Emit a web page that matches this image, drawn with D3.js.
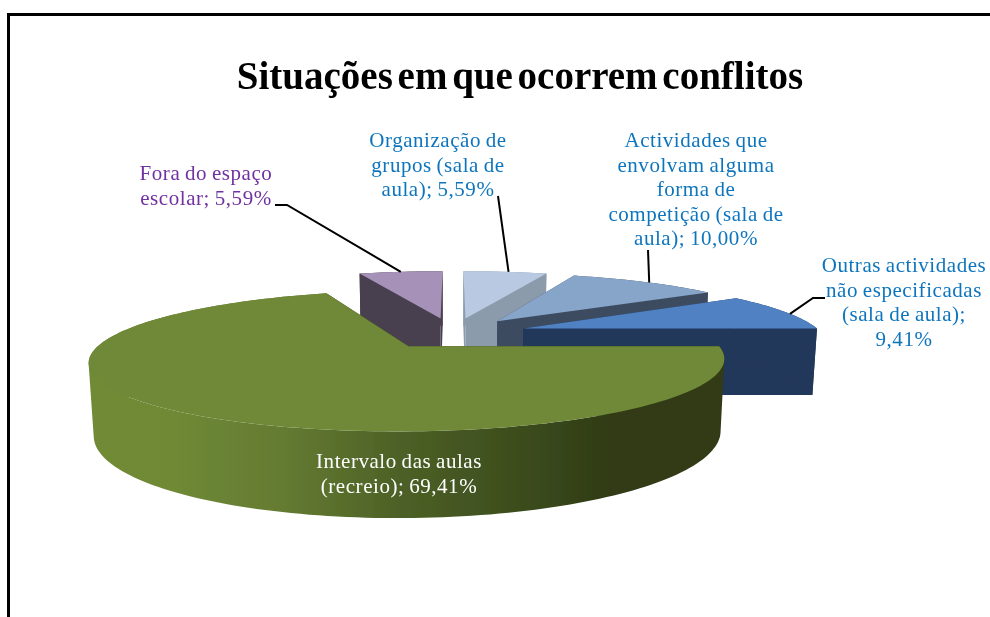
<!DOCTYPE html>
<html><head><meta charset="utf-8">
<script src="https://cdn.jsdelivr.net/npm/d3@7/dist/d3.min.js"></script>
<style>html,body{margin:0;padding:0;background:#fff}svg{display:block}text{font-family:"Liberation Serif",serif}</style>
</head><body><div id="c"></div>
<script>
const chartTitle = "Situações em que ocorrem conflitos";
const categories = ["Intervalo das aulas (recreio)","Fora do espaço escolar","Organização de grupos (sala de aula)","Actividades que envolvam alguma forma de competição (sala de aula)","Outras actividades não especificadas (sala de aula)"];
const values = [69.41,5.59,5.59,10.00,9.41];
const valueLabels = ["69,41%","5,59%","5,59%","10,00%","9,41%"];
const labelLines = [
  ["Intervalo das aulas","(recreio); 69,41%"],
  ["Fora do espaço","escolar; 5,59%"],
  ["Organização de","grupos (sala de","aula); 5,59%"],
  ["Actividades que","envolvam alguma","forma de","competição (sala de","aula); 10,00%"],
  ["Outras actividades","não especificadas","(sala de aula);","9,41%"]
];
const topColors = ["#6f8937","#a692b8","#b8c9e1","#87a4c9","#4f81c3"];
const sideColors = ["#303a16","#4a4050","#8c9bac","#3d4c60","#21375a"];
const labelColors = ["#ffffff","#7030a0","#0f75bd","#0f75bd","#0f75bd"];
const labelX = [399,206,438,696,904];
const labelFirstY = [468,180,147,147,272];
const labelStep = 24.5;
const elbows = [null,[[287,205],[275,205]],[[498,196]],[[648,250]],[[813,298],[825,298]]];
const anchorFraction = [0.5,0.5,0.54,0.53,0.56];

const W=990,H=617;
const svg=d3.select("#c").append("svg").attr("width",W).attr("height",H);
const defs=svg.append("defs");
const grad=defs.append("linearGradient").attr("id","greenSide").attr("gradientUnits","userSpaceOnUse").attr("x1",92).attr("x2",724).attr("y1",0).attr("y2",0);
[[0,"#6f8a36"],[0.13,"#6f8936"],[0.3,"#647b32"],[0.5,"#4b5f25"],[0.7,"#3a4a1c"],[0.82,"#303b16"],[1,"#303a16"]].forEach(s=>grad.append("stop").attr("offset",s[0]).attr("stop-color",s[1]));
const soft=defs.append("filter").attr("id","soft");
soft.append("feGaussianBlur").attr("stdDeviation",0.5);
const softT=defs.append("filter").attr("id","softText").attr("x","-5%").attr("width","110%");
softT.append("feGaussianBlur").attr("stdDeviation",0.3);

// frame
const frameLine=d3.line();
svg.append("path").attr("d",frameLine([[8.5,H],[8.5,14.5],[W,14.5]])).attr("fill","none").attr("stroke","#000").attr("stroke-width",3);

svg.append("text").attr("x",520).attr("y",89).attr("text-anchor","middle").attr("font-weight","bold").attr("font-size",39).attr("word-spacing",-5).attr("filter","url(#softText)").text(chartTitle);

// projection
const x=d3.scaleLinear().domain([0,1]).range([453,751]);
const y=d3.scaleLinear().domain([0,1]).range([333,395]);
const persp=0.2,persz=0.013,depth=1.1,explode=0.25;
const proj=(u,v,z)=>{const w=1-persp*v+persz*z;return [x(u/w),y((v+depth*z)/w)];};
const pie=d3.pie().sort(null).startAngle(Math.PI/2).endAngle(Math.PI*2.5)(values);
const arcs=pie.map(d=>({i:d.index,a0:d.startAngle-Math.PI/2,a1:d.endAngle-Math.PI/2}));
const pt=(s,r,a,z)=>{const m=(s.a0+s.a1)/2;return proj(explode*Math.cos(m)+r*Math.cos(a),explode*Math.sin(m)+r*Math.sin(a),z);};
const path=d3.line();
const pieG=svg.append("g").attr("filter","url(#soft)");
const order=[1,2,3,4,0];
order.forEach(i=>{
  const s=arcs[i],n=Math.max(20,Math.round((s.a1-s.a0)*40));
  const as=d3.range(0,n+1).map(k=>s.a0+(s.a1-s.a0)*k/n);
  const g=pieG.append("g");
  [s.a0,s.a1].forEach(a=>g.append("path").attr("d",path([pt(s,0,a,0),pt(s,1,a,0),pt(s,1,a,1),pt(s,0,a,1)])+"Z").attr("fill",sideColors[i]));
  // rim: all quads wound the same way in one path, so the folds at the silhouette stay filled
  const rim=d3.pairs(as).map(([a,b])=>{
    const q=[pt(s,1,a,0),pt(s,1,b,0),pt(s,1,b,1),pt(s,1,a,1)];
    return path(d3.polygonArea(q)<0?q.reverse():q)+"Z";
  }).join("");
  g.append("path").attr("d",rim).attr("fill",i===0?"url(#greenSide)":sideColors[i]);
  g.append("path").attr("d",path([pt(s,0,s.a0,0)].concat(as.map(a=>pt(s,1,a,0))))+"Z").attr("fill",topColors[i]);
});

// leaders
arcs.forEach(s=>{
  if(!elbows[s.i])return;
  const m=s.a0+(s.a1-s.a0)*anchorFraction[s.i];
  svg.append("path").attr("d",path([pt(s,1,m,0)].concat(elbows[s.i]))).attr("fill","none").attr("stroke","#000").attr("stroke-width",2);
});

// labels
labelLines.forEach((lines,i)=>{
  const t=svg.append("text").attr("text-anchor","middle").attr("font-size",21).attr("letter-spacing",0.55).attr("word-spacing",-1).attr("fill",labelColors[i]).attr("filter","url(#softText)");
  lines.forEach((l,k)=>t.append("tspan").attr("x",labelX[i]).attr("y",labelFirstY[i]+k*labelStep).text(l));
});
</script></body></html>
